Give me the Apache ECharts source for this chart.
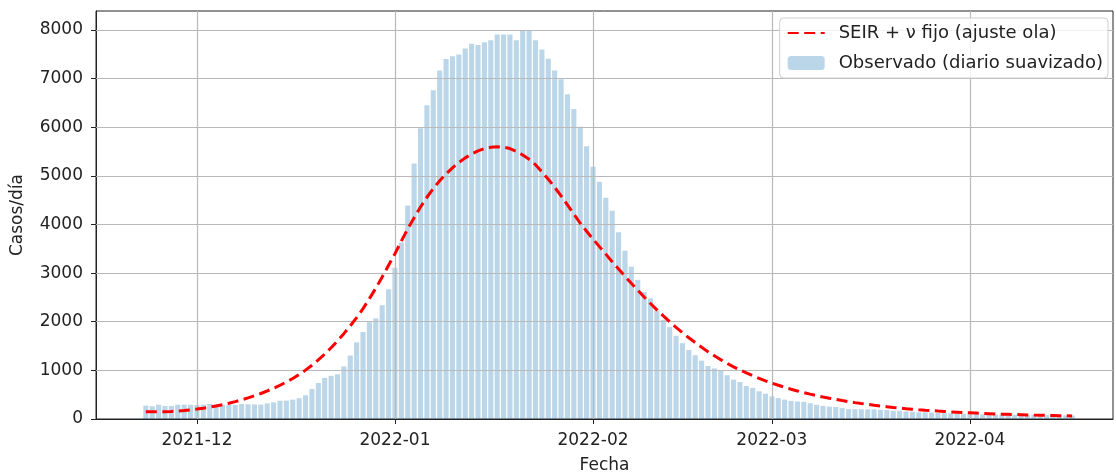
<!DOCTYPE html>
<html>
<head>
<meta charset="utf-8">
<script src="https://cdn.jsdelivr.net/npm/echarts@6/dist/echarts.min.js"></script>
<style>
  html, body { margin: 0; padding: 0; background: #fff; }
  #chart { width: 1116px; height: 475px; }
</style>
</head>
<body>
<div id="chart"></div>
<script>
// First day of the series; one value per day from here on
const startDate = [2021, 11, 23];

// Smoothed daily observed cases, 2021-11-23 .. 2022-04-17
const observed = [
  // Nov 23-30
  275, 262, 295, 268, 268, 295, 295, 293,
  // Dec
  288, 295, 308, 300, 295, 296, 290, 308, 302, 300, 296, 322, 342, 375, 378, 398,
  428, 488, 618, 740, 845, 888, 920, 1080, 1305, 1575, 1790, 1990, 2070, 2340, 2670,
  // Jan
  3110, 3630, 4390, 5255, 5980, 6450, 6760, 7165, 7405, 7460, 7495, 7620, 7715, 7690, 7745,
  7790, 7905, 7905, 7905, 7790, 8000, 8000, 7790, 7600, 7410, 7165, 6985, 6680, 6375, 6010, 5610,
  // Feb
  5185, 4880, 4550, 4280, 3840, 3460, 3130, 2860, 2610, 2480, 2230, 2040, 1890, 1710,
  1560, 1420, 1310, 1200, 1090, 1040, 1000, 900, 810, 760, 680, 640, 570, 520,
  // Mar
  465, 430, 398, 372, 360, 355, 325, 292, 270, 256, 248, 224, 204, 202, 201, 200,
  198, 190, 184, 170, 168, 156, 153, 137, 136, 134, 123, 120, 117, 116, 105,
  // Apr 1-17
  102, 101, 96, 95, 94, 90, 89, 88, 86, 84, 83, 80, 79, 78, 76, 74, 72
];

// SEIR model with fixed nu, fitted to the wave (same days)
const seir = [
  // Nov 23-30
  150, 148, 148, 150, 155, 163, 174, 188,
  // Dec
  205, 223, 244, 268, 295, 325, 358, 394, 434, 477, 524, 576, 632, 694, 761, 834,
  914, 1005, 1105, 1215, 1335, 1465, 1605, 1755, 1915, 2085, 2270, 2475, 2690, 2920, 3160,
  // Jan
  3400, 3660, 3910, 4140, 4360, 4560, 4740, 4900, 5040, 5165, 5275, 5370, 5450, 5515, 5560,
  5588, 5598, 5590, 5562, 5505, 5430, 5340, 5230, 5080, 4930, 4765, 4590, 4405, 4215, 4025, 3860,
  // Feb
  3700, 3545, 3390, 3235, 3085, 2935, 2790, 2650, 2510, 2375, 2245, 2120, 2000, 1885,
  1775, 1670, 1570, 1475, 1385, 1300, 1220, 1145, 1073, 1010, 948, 890, 836, 785,
  // Mar
  738, 694, 652, 613, 577, 543, 511, 481, 453, 427, 402, 379, 357, 337, 318, 300,
  283, 267, 252, 238, 225, 213, 202, 191, 181, 172, 163, 155, 147, 140, 133,
  // Apr 1-17
  127, 121, 115, 110, 105, 100, 96, 92, 88, 84, 80, 77, 74, 71, 68, 65, 63
];

const monthTicks = ['2021-12', '2022-01', '2022-02', '2022-03', '2022-04'];
const yTicks = [0, 1000, 2000, 3000, 4000, 5000, 6000, 7000, 8000];

const seriesNames = ['SEIR + ν fijo (ajuste ola)', 'Observado (diario suavizado)'];
const axisNames = { x: 'Fecha', y: 'Casos/día' };

const DAY = 86400000;
const t0 = Date.UTC(startDate[0], startDate[1] - 1, startDate[2]);
const days = observed.map((_, i) => t0 + i * DAY);
const monthTs = monthTicks.map(s => {
  const [y, m] = s.split('-').map(Number);
  return Date.UTC(y, m - 1, 1);
});
const xMin = days[0] - 7.8 * DAY;
const xMax = days[days.length - 1] + 6.4 * DAY;

const fmtMonth = v => {
  const d = new Date(v);
  return d.getUTCFullYear() + '-' + String(d.getUTCMonth() + 1).padStart(2, '0');
};

const FONT = 'DejaVu Sans';
const FS = 17;
const TXT = '#222';
const GRID_LINE = { color: '#b9b9b9', width: 1.2, type: 'solid' };
const DASH = [11, 5.5];

const chart = echarts.init(document.getElementById('chart'), null, { renderer: 'canvas' });
chart.setOption({
  animation: false,
  backgroundColor: '#fff',
  textStyle: { fontFamily: FONT },
  grid: {
    left: 96, right: 3, top: 11, bottom: 56,
    outerBoundsMode: 'none',
    containLabel: false,
    show: true, borderColor: '#222', borderWidth: 1, backgroundColor: 'transparent'
  },
  legend: {
    orient: 'vertical',
    right: 8, top: 18,
    z: 20,
    padding: [6, 5, 6, 7],
    itemGap: 12,
    itemWidth: 37, itemHeight: 14,
    backgroundColor: 'rgba(255,255,255,0.8)',
    borderColor: '#cfcfcf', borderWidth: 1, borderRadius: 4,
    textStyle: { fontFamily: FONT, fontSize: 18, color: TXT, padding: [0, 0, 0, 9] },
    data: [
      { name: seriesNames[0], itemStyle: { opacity: 0 } },
      { name: seriesNames[1] }
    ]
  },
  xAxis: {
    // timestamps (ms) on a linear scale, month ticks placed explicitly
    type: 'value',
    min: xMin, max: xMax,
    scale: true,
    name: axisNames.x, nameLocation: 'middle', nameGap: 38,
    nameTextStyle: { fontFamily: FONT, fontSize: FS, color: TXT },
    axisLine: { show: true, onZero: false, lineStyle: { color: '#222', width: 1 } },
    axisTick: { show: true, length: 5, lineStyle: { color: '#222' }, customValues: monthTs },
    axisLabel: {
      customValues: monthTs, formatter: fmtMonth, margin: 13,
      fontFamily: FONT, fontSize: FS, color: TXT
    },
    splitLine: { show: false }
  },
  yAxis: {
    type: 'value',
    min: 0, max: 8390,
    name: axisNames.y, nameLocation: 'middle', nameGap: 70, nameRotate: 90,
    nameTextStyle: { fontFamily: FONT, fontSize: FS, color: TXT },
    axisLine: { show: true, onZero: false, lineStyle: { color: '#222', width: 1 } },
    axisTick: { show: true, length: 5, lineStyle: { color: '#222' }, customValues: yTicks },
    axisLabel: {
      customValues: yTicks, formatter: v => String(v), margin: 13,
      fontFamily: FONT, fontSize: FS, color: TXT
    },
    splitLine: { show: false }
  },
  series: [
    {
      name: seriesNames[1],
      type: 'bar',
      data: days.map((t, i) => [t, observed[i]]),
      barWidth: 5.1,
      itemStyle: { color: 'rgba(31,119,180,0.3)' },
      emphasis: { disabled: true },
      z: 2,
      // grid drawn on top of the bars
      markLine: {
        silent: true,
        symbol: ['none', 'none'],
        label: { show: false },
        lineStyle: GRID_LINE,
        emphasis: { disabled: true },
        z: 4,
        data: yTicks.filter(v => v > 0).map(v => ({ yAxis: v }))
          .concat(monthTs.map(t => ({ xAxis: t })))
      }
    },
    {
      name: seriesNames[0],
      type: 'line',
      data: days.map((t, i) => [t, seir[i]]),
      showSymbol: false,
      symbol: 'none',
      smooth: false,
      lineStyle: { color: '#ff0000', width: 3, type: DASH, cap: 'butt' },
      itemStyle: { color: '#ff0000' },
      emphasis: { disabled: true },
      z: 10
    }
  ]
});
</script>
</body>
</html>
